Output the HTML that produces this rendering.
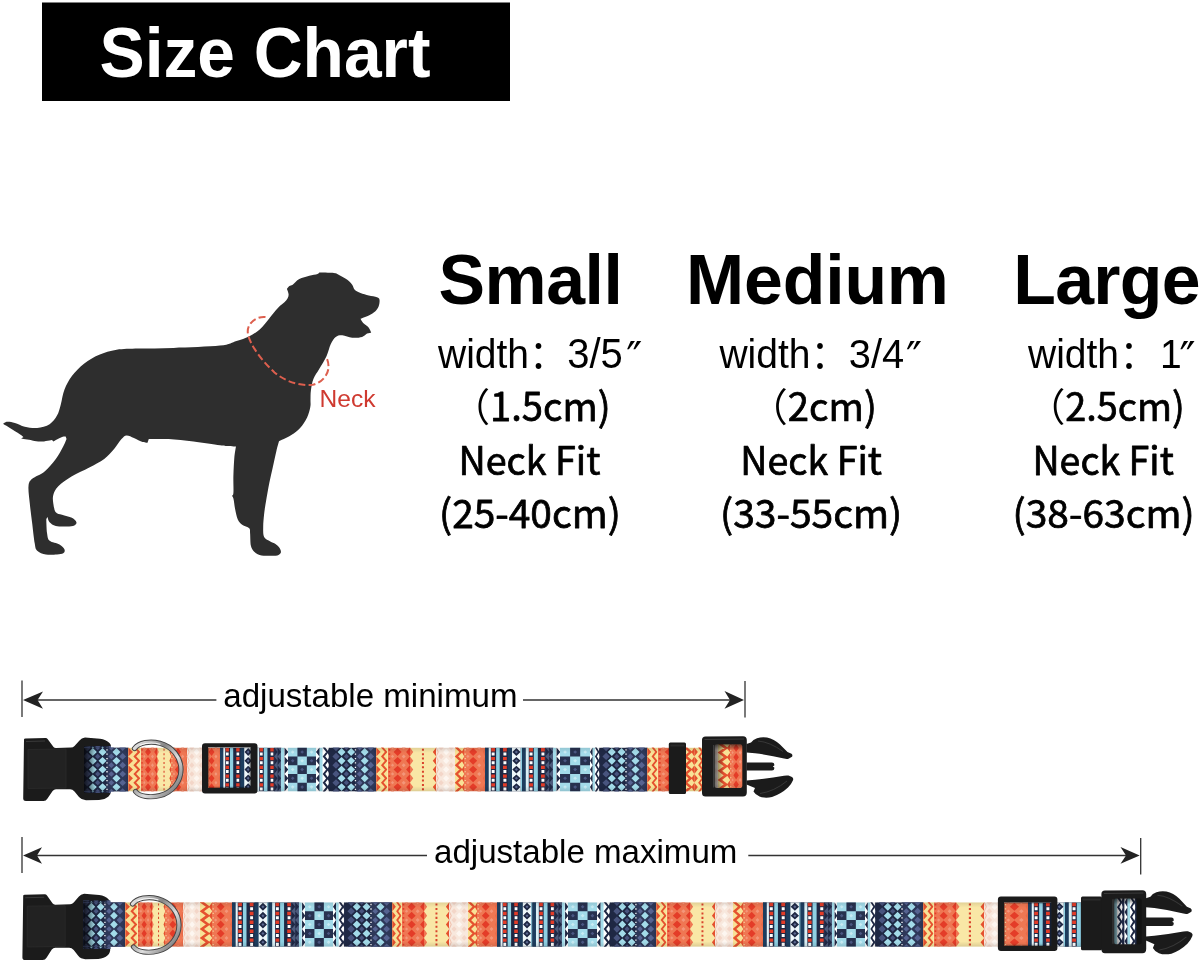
<!DOCTYPE html>
<html><head><meta charset="utf-8"><title>Size Chart</title>
<style>
html,body{margin:0;padding:0;background:#fff;}
body{width:1200px;height:968px;overflow:hidden;position:relative;font-family:"Liberation Sans","Noto Sans CJK SC",sans-serif;color:#000;}
svg{position:absolute;left:0;top:0;display:block;}
.h{font-family:"Liberation Sans",sans-serif;font-weight:700;}
.a{font-family:"Liberation Sans","Noto Sans CJK SC",sans-serif;}
.q{font-family:"DejaVu Sans",sans-serif;}
.n{font-family:"Noto Sans CJK SC","Liberation Sans",sans-serif;}
</style></head><body>
<svg id="s" width="1200" height="968" viewBox="0 0 1200 968">
<!-- header -->
<rect x="42" y="2.5" width="468" height="98.5" fill="#000"/>
<g transform="translate(0,76.5) scale(1,1.04)"><text id="t_title" class="h" x="99.5" y="0" font-size="67.7" fill="#fff">Size Chart</text></g>
<!-- headings -->
<g font-size="69.8">
<text id="t_small" class="h" x="438.4" y="303.7" letter-spacing="-0.4">Small</text>
<text id="t_medium" class="h" x="686" y="303.7" letter-spacing="-0.15">Medium</text>
<text id="t_large" class="h" x="1013.3" y="303.7" letter-spacing="-0.7">Large</text>
</g>
<!-- size details -->
<g id="details">
<g font-size="39">
<g transform="translate(0,367.5) scale(1,1.04)">
<text id="w1" class="a" y="0"><tspan x="438">width</tspan><tspan class="n" x="529" font-size="38">：</tspan><tspan x="567.2" font-size="40">3/5</tspan><tspan class="q" x="626.2" dy="6.5" font-size="43">″</tspan></text>
<text id="w2" class="a" y="0"><tspan x="719.4">width</tspan><tspan class="n" x="810.5" font-size="38">：</tspan><tspan x="848.8" font-size="39.8">3/4</tspan><tspan class="q" x="906" dy="6.5" font-size="43">″</tspan></text>
<text id="w3" class="a" y="0"><tspan x="1028">width</tspan><tspan class="n" x="1119.5" font-size="38">：</tspan><tspan x="1160" font-size="39">1</tspan><tspan class="q" x="1179.5" dy="6.5" font-size="43">″</tspan></text>
</g>
</g>
<g class="n" font-size="39" stroke="#000" stroke-width="0.75" stroke-linejoin="round">
<text id="p1" transform="translate(452,421.3) scale(0.977,1)"><tspan stroke="none">（</tspan>1.5cm)</text>
<text id="p2" transform="translate(749.6,421.3) scale(0.98,1)"><tspan stroke="none">（</tspan>2cm)</text>
<text id="p3" transform="translate(1027.5,421.3) scale(0.97,1)"><tspan stroke="none">（</tspan>2.5cm)</text>
<text id="n1" transform="translate(458.4,474.8) scale(0.967,1)">Neck Fit</text>
<text id="n2" transform="translate(740.3,474.8) scale(0.965,1)">Neck Fit</text>
<text id="n3" transform="translate(1032.5,474.8) scale(0.962,1)">Neck Fit</text>
<text id="r1" transform="translate(439,528) scale(0.997,1)">(25-40cm)</text>
<text id="r2" transform="translate(720,528) scale(0.999,1)">(33-55cm)</text>
<text id="r3" transform="translate(1012.6,528) scale(0.998,1)">(38-63cm)</text>
</g>
</g>
<!-- dog -->
<g id="dog">
<path id="dogpath" fill="#2e2e2e" d="M220.0 345.6C230.5 344.5 231.7 342.5 236.5 341.0C241.3 339.5 245.0 338.3 248.9 336.4C252.8 334.5 256.2 332.5 259.7 329.4C263.1 326.3 266.6 321.5 269.6 317.9C272.6 314.3 275.1 310.8 277.9 307.9C280.6 305.0 284.3 302.7 286.1 300.5C287.9 298.3 288.5 296.6 288.6 294.7C288.7 292.8 286.9 288.9 286.9 288.9C286.9 288.9 288.4 286.8 289.4 286.1C290.4 285.4 291.0 286.0 292.7 284.8C294.4 283.6 296.5 280.5 299.3 279.0C302.1 277.5 306.3 276.5 309.3 275.7C312.3 274.9 315.9 274.6 317.5 274.0C319.1 273.4 319.2 272.4 319.2 272.4C319.2 272.4 330.7 272.5 334.0 272.9C337.3 273.3 336.8 273.8 339.0 274.9C341.2 276.0 345.1 278.1 347.3 279.8C349.5 281.5 351.0 283.1 352.2 284.8C353.4 286.5 353.3 288.4 354.7 289.8C356.1 291.2 358.1 292.1 360.5 293.0C362.9 293.9 366.1 294.8 368.8 295.5C371.6 296.2 375.2 296.5 377.0 297.2C378.8 297.9 379.2 298.2 379.5 299.7C379.8 301.2 379.4 304.4 378.7 306.3C378.0 308.2 377.0 309.7 375.4 311.2C373.8 312.7 371.3 314.1 368.8 315.4C366.3 316.6 360.5 318.7 360.5 318.7C360.5 318.7 362.4 322.1 363.8 323.6C365.2 325.1 367.6 326.3 368.8 327.8C370.0 329.3 371.2 332.7 371.2 332.7C371.2 332.7 368.6 332.9 367.1 333.6C365.6 334.3 364.6 336.2 362.1 336.9C359.6 337.6 355.5 338.0 352.2 337.7C348.9 337.4 345.1 335.3 342.3 335.2C339.6 335.1 337.6 335.4 335.7 336.9C333.8 338.4 332.2 341.1 330.7 344.3C329.2 347.5 328.5 351.8 326.6 355.9C324.7 360.0 321.4 365.2 319.2 369.1C317.0 373.0 314.8 375.4 313.4 379.0C312.0 382.6 311.4 387.1 310.9 390.6C310.4 394.1 310.6 397.3 310.5 400.0C310.4 402.7 310.9 404.1 310.3 407.0C309.7 409.9 308.8 414.1 307.1 417.6C305.4 421.1 302.7 425.2 300.1 428.1C297.5 431.0 294.8 432.9 291.3 435.1C287.8 437.3 279.0 441.3 279.0 441.3C279.0 441.3 277.4 446.7 276.4 450.9C275.4 455.1 274.1 461.4 272.9 466.7C271.7 472.0 270.6 476.7 269.4 482.6C268.2 488.5 266.8 496.6 265.9 501.9C265.0 507.2 264.6 510.1 264.1 514.2C263.7 518.3 263.2 522.7 263.2 526.5C263.2 530.3 262.9 534.5 264.1 537.0C265.3 539.5 268.4 540.2 270.3 541.4C272.2 542.6 273.9 542.8 275.5 544.0C277.1 545.2 279.0 546.9 279.9 548.4C280.8 549.9 281.2 551.6 280.8 552.8C280.4 554.0 279.1 555.0 277.3 555.5C275.6 556.0 272.9 555.8 270.3 555.8C267.7 555.8 264.1 556.1 261.5 555.5C258.9 554.9 256.3 553.5 254.5 551.9C252.7 550.3 251.6 548.9 250.9 545.8C250.2 542.7 250.4 536.4 250.1 533.5C249.8 530.6 250.5 529.7 249.2 528.2C247.9 526.7 244.1 526.2 242.2 524.7C240.3 523.2 239.0 522.0 237.8 519.4C236.6 516.8 235.8 512.4 235.1 508.9C234.4 505.4 234.0 500.6 233.4 498.4C232.8 496.2 231.6 495.7 231.6 495.7C231.6 495.7 233.1 496.5 233.4 493.1C233.7 489.7 233.2 481.4 233.4 475.5C233.6 469.6 233.9 462.8 234.3 458.0C234.7 453.2 236.0 446.5 236.0 446.5C236.0 446.5 229.0 446.2 226.3 446.0C223.6 445.8 225.5 446.0 220.0 445.3C214.5 444.6 202.1 442.6 193.5 441.6C184.9 440.6 176.1 439.5 168.7 439.1C161.2 438.7 148.8 439.1 148.8 439.1C148.8 439.1 147.6 442.8 147.6 442.8C147.6 442.8 144.9 442.9 142.6 442.1C140.3 441.3 136.6 439.0 133.9 437.9C131.2 436.8 128.6 435.2 126.5 435.4C124.4 435.6 123.6 436.8 121.5 439.1C119.4 441.4 117.0 445.7 114.1 449.0C111.2 452.3 108.3 455.9 104.2 459.0C100.1 462.1 94.7 464.7 89.3 467.6C83.9 470.5 77.1 473.2 71.9 476.3C66.7 479.4 61.4 483.1 58.3 486.2C55.2 489.3 54.1 492.0 53.3 494.9C52.5 497.8 52.9 500.7 53.3 503.6C53.7 506.5 54.3 510.4 55.8 512.3C57.2 514.2 59.3 513.9 62.0 514.8C64.7 515.7 69.5 516.6 71.9 517.8C74.3 519.0 76.0 520.9 76.4 522.2C76.8 523.5 76.0 524.7 74.4 525.4C72.8 526.1 70.1 526.3 67.0 526.4C63.9 526.5 58.7 526.6 55.8 525.9C52.9 525.2 51.0 523.7 49.6 522.2C48.2 520.7 47.6 517.0 47.6 517.0C47.6 517.0 46.3 519.0 46.3 519.0C46.3 519.0 46.5 529.8 47.1 533.4C47.7 537.0 47.5 538.9 49.6 540.8C51.7 542.6 57.0 543.0 59.5 544.5C62.0 546.0 63.9 548.0 64.5 549.5C65.1 551.0 64.5 552.4 63.2 553.2C62.0 554.0 59.9 554.3 57.0 554.5C54.1 554.7 49.2 555.1 45.9 554.5C42.6 553.9 39.1 552.6 37.2 550.7C35.3 548.8 35.5 547.8 34.7 543.3C33.9 538.8 33.0 530.1 32.2 523.5C31.4 516.9 30.4 509.8 29.8 503.6C29.2 497.4 28.1 490.3 28.5 486.2C28.9 482.1 29.5 481.3 32.2 478.8C34.9 476.3 40.7 474.7 44.6 471.4C48.5 468.1 52.7 463.1 55.8 459.0C58.9 454.9 61.4 449.9 63.2 446.6C65.0 443.3 66.5 439.1 66.5 439.1C66.5 439.1 65.7 436.6 65.7 436.6C65.7 436.6 64.1 436.3 62.0 437.1C59.9 437.9 53.3 441.6 53.3 441.6C53.3 441.6 52.1 439.9 52.1 439.9C52.1 439.9 44.2 441.5 40.9 441.6C37.6 441.7 35.5 440.9 32.2 440.4C28.9 439.9 21.1 438.6 21.1 438.6C21.1 438.6 23.6 437.1 23.6 437.1C23.6 437.1 22.1 435.7 19.8 434.2C17.5 432.7 12.7 429.7 9.9 428.0C7.1 426.3 3.0 423.8 3.0 423.8C3.0 423.8 5.4 421.9 7.4 421.8C9.4 421.7 12.0 422.2 14.9 423.0C17.8 423.8 21.1 425.9 24.8 426.7C28.5 427.5 33.1 428.4 37.2 428.0C41.3 427.6 46.3 426.3 49.6 424.2C52.9 422.1 55.1 418.9 57.0 415.6C58.9 412.3 59.5 408.8 60.8 404.4C62.0 400.0 62.6 394.2 64.5 389.5C66.3 384.8 68.6 380.2 71.9 375.9C75.2 371.6 79.8 367.0 84.3 363.5C88.8 360.0 93.8 357.1 99.2 354.8C104.6 352.5 110.0 350.8 116.6 349.8C123.2 348.8 129.4 348.9 138.9 348.6C148.4 348.3 160.1 348.4 173.6 347.9C187.1 347.4 209.5 346.8 220.0 345.6Z"/>
<path id="neckring" fill="none" stroke="#dd5f4e" stroke-width="2" stroke-dasharray="7 3.2" d="M265.5 317C256 316 246 324 248 334C250 345 262 361 274.5 372.4C287 383 302 386 312.6 384.8C322 383 329 374 328.5 366C328.3 362 327.5 360 326.6 358"/>
<text id="necklbl" class="a" transform="translate(319.6,406.8) scale(1.07,1)" font-size="23" fill="#cf3a30">Neck</text>
</g>
<!-- collars -->
<defs>
<g id="gA"><rect x="0.00" y="0" width="28.00" height="44" fill="#a3dbe9"/><path d="M9.33 0.00h9.33v8.80h-9.33zM0.00 8.80h9.33v8.80h-9.33zM18.67 8.80h9.33v8.80h-9.33zM9.33 17.60h9.33v8.80h-9.33zM0.00 26.40h9.33v8.80h-9.33zM18.67 26.40h9.33v8.80h-9.33zM9.33 35.20h9.33v8.80h-9.33z" fill="#27314f"/><path d="M12.20 4.40L14.00 2.60L15.80 4.40L14.00 6.20ZM2.87 13.20L4.67 11.40L6.47 13.20L4.67 15.00ZM21.53 13.20L23.33 11.40L25.13 13.20L23.33 15.00ZM12.20 22.00L14.00 20.20L15.80 22.00L14.00 23.80ZM2.87 30.80L4.67 29.00L6.47 30.80L4.67 32.60ZM21.53 30.80L23.33 29.00L25.13 30.80L23.33 32.60ZM12.20 39.60L14.00 37.80L15.80 39.60L14.00 41.40Z" fill="#4a5782"/><path d="M2.87 4.40L4.67 2.60L6.47 4.40L4.67 6.20ZM21.53 4.40L23.33 2.60L25.13 4.40L23.33 6.20ZM12.20 13.20L14.00 11.40L15.80 13.20L14.00 15.00ZM2.87 22.00L4.67 20.20L6.47 22.00L4.67 23.80ZM21.53 22.00L23.33 20.20L25.13 22.00L23.33 23.80ZM12.20 30.80L14.00 29.00L15.80 30.80L14.00 32.60ZM2.87 39.60L4.67 37.80L6.47 39.60L4.67 41.40ZM21.53 39.60L23.33 37.80L25.13 39.60L23.33 41.40Z" fill="#c8ebf3"/></g>
<g id="gB"><rect x="0.00" y="0" width="15.00" height="44" fill="#ffffff"/><rect x="3.20" y="0" width="3.20" height="44" fill="#a3dbe9"/><path d="M3.40 0.00L0.00 4.40L3.40 8.80ZM3.40 8.80L0.00 13.20L3.40 17.60ZM3.40 17.60L0.00 22.00L3.40 26.40ZM3.40 26.40L0.00 30.80L3.40 35.20ZM3.40 35.20L0.00 39.60L3.40 44.00Z" fill="#1f2844"/><path d="M7.80 -8.80L11.20 -4.40L7.80 0.00L11.20 4.40L7.80 8.80L11.20 13.20L7.80 17.60L11.20 22.00L7.80 26.40L11.20 30.80L7.80 35.20L11.20 39.60L7.80 44.00L11.20 48.40L7.80 52.80L11.20 57.20" fill="none" stroke="#1f2844" stroke-width="2.00" stroke-linejoin="miter"/><rect x="12.50" y="0" width="2.50" height="44" fill="#1f2844"/><path d="M13.20 0.00L11.00 4.40L13.20 8.80ZM13.20 8.80L11.00 13.20L13.20 17.60ZM13.20 17.60L11.00 22.00L13.20 26.40ZM13.20 26.40L11.00 30.80L13.20 35.20ZM13.20 35.20L11.00 39.60L13.20 44.00Z" fill="#1f2844"/></g>
<g id="gC"><rect x="0.00" y="0" width="45.00" height="44" fill="#1f2844"/><rect x="24.00" y="0" width="21.00" height="44" fill="#2e3859"/><path d="M1.40 0.00L5.00 -3.60L8.60 0.00L5.00 3.60ZM1.40 8.80L5.00 5.20L8.60 8.80L5.00 12.40ZM1.40 17.60L5.00 14.00L8.60 17.60L5.00 21.20ZM1.40 26.40L5.00 22.80L8.60 26.40L5.00 30.00ZM1.40 35.20L5.00 31.60L8.60 35.20L5.00 38.80ZM1.40 44.00L5.00 40.40L8.60 44.00L5.00 47.60ZM1.40 52.80L5.00 49.20L8.60 52.80L5.00 56.40Z" fill="#48547e"/><path d="M6.60 -4.40L10.50 -8.30L14.40 -4.40L10.50 -0.50ZM6.60 4.40L10.50 0.50L14.40 4.40L10.50 8.30ZM6.60 13.20L10.50 9.30L14.40 13.20L10.50 17.10ZM6.60 22.00L10.50 18.10L14.40 22.00L10.50 25.90ZM6.60 30.80L10.50 26.90L14.40 30.80L10.50 34.70ZM6.60 39.60L10.50 35.70L14.40 39.60L10.50 43.50ZM6.60 48.40L10.50 44.50L14.40 48.40L10.50 52.30Z" fill="#a3dbe9"/><path d="M12.70 0.00L15.30 -2.60L17.90 0.00L15.30 2.60ZM12.70 8.80L15.30 6.20L17.90 8.80L15.30 11.40ZM12.70 17.60L15.30 15.00L17.90 17.60L15.30 20.20ZM12.70 26.40L15.30 23.80L17.90 26.40L15.30 29.00ZM12.70 35.20L15.30 32.60L17.90 35.20L15.30 37.80ZM12.70 44.00L15.30 41.40L17.90 44.00L15.30 46.60ZM12.70 52.80L15.30 50.20L17.90 52.80L15.30 55.40Z" fill="#48547e"/><path d="M16.10 -4.40L20.00 -8.30L23.90 -4.40L20.00 -0.50ZM16.10 4.40L20.00 0.50L23.90 4.40L20.00 8.30ZM16.10 13.20L20.00 9.30L23.90 13.20L20.00 17.10ZM16.10 22.00L20.00 18.10L23.90 22.00L20.00 25.90ZM16.10 30.80L20.00 26.90L23.90 30.80L20.00 34.70ZM16.10 39.60L20.00 35.70L23.90 39.60L20.00 43.50ZM16.10 48.40L20.00 44.50L23.90 48.40L20.00 52.30Z" fill="#a3dbe9"/><path d="M23.65 1.55h1.30v1.30h-1.30zM23.65 5.95h1.30v1.30h-1.30zM23.65 10.35h1.30v1.30h-1.30zM23.65 14.75h1.30v1.30h-1.30zM23.65 19.15h1.30v1.30h-1.30zM23.65 23.55h1.30v1.30h-1.30zM23.65 27.95h1.30v1.30h-1.30zM23.65 32.35h1.30v1.30h-1.30zM23.65 36.75h1.30v1.30h-1.30zM23.65 41.15h1.30v1.30h-1.30z" fill="#ffffff"/><path d="M25.70 0.00L28.50 -2.80L31.30 0.00L28.50 2.80ZM25.70 8.80L28.50 6.00L31.30 8.80L28.50 11.60ZM25.70 17.60L28.50 14.80L31.30 17.60L28.50 20.40ZM25.70 26.40L28.50 23.60L31.30 26.40L28.50 29.20ZM25.70 35.20L28.50 32.40L31.30 35.20L28.50 38.00ZM25.70 44.00L28.50 41.20L31.30 44.00L28.50 46.80ZM25.70 52.80L28.50 50.00L31.30 52.80L28.50 55.60Z" fill="#566391"/><path d="M29.60 -4.40L33.50 -8.30L37.40 -4.40L33.50 -0.50ZM29.60 4.40L33.50 0.50L37.40 4.40L33.50 8.30ZM29.60 13.20L33.50 9.30L37.40 13.20L33.50 17.10ZM29.60 22.00L33.50 18.10L37.40 22.00L33.50 25.90ZM29.60 30.80L33.50 26.90L37.40 30.80L33.50 34.70ZM29.60 39.60L33.50 35.70L37.40 39.60L33.50 43.50ZM29.60 48.40L33.50 44.50L37.40 48.40L33.50 52.30Z" fill="#a3dbe9"/><path d="M36.20 0.00L39.50 -3.30L42.80 0.00L39.50 3.30ZM36.20 8.80L39.50 5.50L42.80 8.80L39.50 12.10ZM36.20 17.60L39.50 14.30L42.80 17.60L39.50 20.90ZM36.20 26.40L39.50 23.10L42.80 26.40L39.50 29.70ZM36.20 35.20L39.50 31.90L42.80 35.20L39.50 38.50ZM36.20 44.00L39.50 40.70L42.80 44.00L39.50 47.30ZM36.20 52.80L39.50 49.50L42.80 52.80L39.50 56.10Z" fill="#566391"/><path d="M45.00 0.00L42.50 4.40L45.00 8.80ZM45.00 8.80L42.50 13.20L45.00 17.60ZM45.00 17.60L42.50 22.00L45.00 26.40ZM45.00 26.40L42.50 30.80L45.00 35.20ZM45.00 35.20L42.50 39.60L45.00 44.00Z" fill="#2a3354"/></g>
<g id="gD"><rect x="0.00" y="0" width="12.00" height="44" fill="#f8e196"/><path d="M0.30 0.00L4.50 4.40L0.30 8.80ZM0.30 8.80L4.50 13.20L0.30 17.60ZM0.30 17.60L4.50 22.00L0.30 26.40ZM0.30 26.40L4.50 30.80L0.30 35.20ZM0.30 35.20L4.50 39.60L0.30 44.00Z" fill="#e5512f"/><path d="M6.10 -8.80L9.90 -4.40L6.10 0.00L9.90 4.40L6.10 8.80L9.90 13.20L6.10 17.60L9.90 22.00L6.10 26.40L9.90 30.80L6.10 35.20L9.90 39.60L6.10 44.00L9.90 48.40L6.10 52.80L9.90 57.20" fill="none" stroke="#e5512f" stroke-width="1.90" stroke-linejoin="miter"/><rect x="11.20" y="0" width="0.80" height="44" fill="#fbeeb8"/></g>
<g id="gE"><rect x="0.00" y="0" width="22.00" height="44" fill="#ef7753"/><path d="M0.55 1.35h1.70v1.70h-1.70zM0.55 5.75h1.70v1.70h-1.70zM0.55 10.15h1.70v1.70h-1.70zM0.55 14.55h1.70v1.70h-1.70zM0.55 18.95h1.70v1.70h-1.70zM0.55 23.35h1.70v1.70h-1.70zM0.55 27.75h1.70v1.70h-1.70zM0.55 32.15h1.70v1.70h-1.70zM0.55 36.55h1.70v1.70h-1.70zM0.55 40.95h1.70v1.70h-1.70z" fill="#e43c28"/><path d="M5.50 -4.40L9.50 -8.30L13.50 -4.40L9.50 -0.50ZM5.50 4.40L9.50 0.50L13.50 4.40L9.50 8.30ZM5.50 13.20L9.50 9.30L13.50 13.20L9.50 17.10ZM5.50 22.00L9.50 18.10L13.50 22.00L9.50 25.90ZM5.50 30.80L9.50 26.90L13.50 30.80L9.50 34.70ZM5.50 39.60L9.50 35.70L13.50 39.60L9.50 43.50ZM5.50 48.40L9.50 44.50L13.50 48.40L9.50 52.30Z" fill="#e43c28"/><path d="M17.90 -4.40L21.50 -8.60L25.10 -4.40L21.50 -0.20ZM17.90 4.40L21.50 0.20L25.10 4.40L21.50 8.60ZM17.90 13.20L21.50 9.00L25.10 13.20L21.50 17.40ZM17.90 22.00L21.50 17.80L25.10 22.00L21.50 26.20ZM17.90 30.80L21.50 26.60L25.10 30.80L21.50 35.00ZM17.90 39.60L21.50 35.40L25.10 39.60L21.50 43.80ZM17.90 48.40L21.50 44.20L25.10 48.40L21.50 52.60Z" fill="#e43c28"/><path d="M13.50 0.00L15.50 -2.00L17.50 0.00L15.50 2.00ZM13.50 8.80L15.50 6.80L17.50 8.80L15.50 10.80ZM13.50 17.60L15.50 15.60L17.50 17.60L15.50 19.60ZM13.50 26.40L15.50 24.40L17.50 26.40L15.50 28.40ZM13.50 35.20L15.50 33.20L17.50 35.20L15.50 37.20ZM13.50 44.00L15.50 42.00L17.50 44.00L15.50 46.00ZM13.50 52.80L15.50 50.80L17.50 52.80L15.50 54.80Z" fill="#f4967a"/><path d="M2.90 0.00L4.50 -1.60L6.10 0.00L4.50 1.60ZM2.90 8.80L4.50 7.20L6.10 8.80L4.50 10.40ZM2.90 17.60L4.50 16.00L6.10 17.60L4.50 19.20ZM2.90 26.40L4.50 24.80L6.10 26.40L4.50 28.00ZM2.90 35.20L4.50 33.60L6.10 35.20L4.50 36.80ZM2.90 44.00L4.50 42.40L6.10 44.00L4.50 45.60ZM2.90 52.80L4.50 51.20L6.10 52.80L4.50 54.40Z" fill="#f4967a"/></g>
<g id="gF"><rect x="0.00" y="0" width="26.00" height="44" fill="#f9e7a6"/><path d="M0.00 0.00L3.20 4.40L0.00 8.80ZM0.00 8.80L3.20 13.20L0.00 17.60ZM0.00 17.60L3.20 22.00L0.00 26.40ZM0.00 26.40L3.20 30.80L0.00 35.20ZM0.00 35.20L3.20 39.60L0.00 44.00Z" fill="#ef7753"/><path d="M11.80 1.20h2.00v2.00h-2.00zM11.80 5.60h2.00v2.00h-2.00zM11.80 10.00h2.00v2.00h-2.00zM11.80 14.40h2.00v2.00h-2.00zM11.80 18.80h2.00v2.00h-2.00zM11.80 23.20h2.00v2.00h-2.00zM11.80 27.60h2.00v2.00h-2.00zM11.80 32.00h2.00v2.00h-2.00zM11.80 36.40h2.00v2.00h-2.00zM11.80 40.80h2.00v2.00h-2.00z" fill="#d9432c"/><path d="M26.00 0.00L22.50 4.40L26.00 8.80ZM26.00 8.80L22.50 13.20L26.00 17.60ZM26.00 17.60L22.50 22.00L26.00 26.40ZM26.00 26.40L22.50 30.80L26.00 35.20ZM26.00 35.20L22.50 39.60L26.00 44.00Z" fill="#e5512f"/></g>
<g id="gG"><rect x="0.00" y="0" width="19.00" height="44" fill="#f8e8dd"/><path d="M2.40 0.00L5.00 -2.80L7.60 0.00L5.00 2.80ZM2.40 8.80L5.00 6.00L7.60 8.80L5.00 11.60ZM2.40 17.60L5.00 14.80L7.60 17.60L5.00 20.40ZM2.40 26.40L5.00 23.60L7.60 26.40L5.00 29.20ZM2.40 35.20L5.00 32.40L7.60 35.20L5.00 38.00ZM2.40 44.00L5.00 41.20L7.60 44.00L5.00 46.80ZM2.40 52.80L5.00 50.00L7.60 52.80L5.00 55.60Z" fill="#f3d6c8"/><path d="M7.00 -4.40L10.00 -7.60L13.00 -4.40L10.00 -1.20ZM7.00 4.40L10.00 1.20L13.00 4.40L10.00 7.60ZM7.00 13.20L10.00 10.00L13.00 13.20L10.00 16.40ZM7.00 22.00L10.00 18.80L13.00 22.00L10.00 25.20ZM7.00 30.80L10.00 27.60L13.00 30.80L10.00 34.00ZM7.00 39.60L10.00 36.40L13.00 39.60L10.00 42.80ZM7.00 48.40L10.00 45.20L13.00 48.40L10.00 51.60Z" fill="#fdf6f0"/><path d="M12.40 0.00L15.00 -2.80L17.60 0.00L15.00 2.80ZM12.40 8.80L15.00 6.00L17.60 8.80L15.00 11.60ZM12.40 17.60L15.00 14.80L17.60 17.60L15.00 20.40ZM12.40 26.40L15.00 23.60L17.60 26.40L15.00 29.20ZM12.40 35.20L15.00 32.40L17.60 35.20L15.00 38.00ZM12.40 44.00L15.00 41.20L17.60 44.00L15.00 46.80ZM12.40 52.80L15.00 50.00L17.60 52.80L15.00 55.60Z" fill="#f3d6c8"/><path d="M0.20 -8.80L2.20 -4.40L0.20 0.00L2.20 4.40L0.20 8.80L2.20 13.20L0.20 17.60L2.20 22.00L0.20 26.40L2.20 30.80L0.20 35.20L2.20 39.60L0.20 44.00L2.20 48.40L0.20 52.80L2.20 57.20" fill="none" stroke="#f1c2ae" stroke-width="1.00" stroke-linejoin="miter"/></g>
<g id="gH"><rect x="0.00" y="0" width="9.00" height="44" fill="#f8e196"/><path d="M1.40 -8.80L5.80 -4.40L1.40 0.00L5.80 4.40L1.40 8.80L5.80 13.20L1.40 17.60L5.80 22.00L1.40 26.40L5.80 30.80L1.40 35.20L5.80 39.60L1.40 44.00L5.80 48.40L1.40 52.80L5.80 57.20" fill="none" stroke="#e5512f" stroke-width="2.30" stroke-linejoin="miter"/><path d="M9.00 0.00L6.50 4.40L9.00 8.80ZM9.00 8.80L6.50 13.20L9.00 17.60ZM9.00 17.60L6.50 22.00L9.00 26.40ZM9.00 26.40L6.50 30.80L9.00 35.20ZM9.00 35.20L6.50 39.60L9.00 44.00Z" fill="#e5512f"/></g>
<g id="gI"><rect x="0.00" y="0" width="21.00" height="44" fill="#ef7753"/><path d="M0.60 1.60h1.20v1.20h-1.20zM0.60 6.00h1.20v1.20h-1.20zM0.60 10.40h1.20v1.20h-1.20zM0.60 14.80h1.20v1.20h-1.20zM0.60 19.20h1.20v1.20h-1.20zM0.60 23.60h1.20v1.20h-1.20zM0.60 28.00h1.20v1.20h-1.20zM0.60 32.40h1.20v1.20h-1.20zM0.60 36.80h1.20v1.20h-1.20zM0.60 41.20h1.20v1.20h-1.20z" fill="#f9d9a0"/><path d="M5.00 -4.40L9.00 -8.30L13.00 -4.40L9.00 -0.50ZM5.00 4.40L9.00 0.50L13.00 4.40L9.00 8.30ZM5.00 13.20L9.00 9.30L13.00 13.20L9.00 17.10ZM5.00 22.00L9.00 18.10L13.00 22.00L9.00 25.90ZM5.00 30.80L9.00 26.90L13.00 30.80L9.00 34.70ZM5.00 39.60L9.00 35.70L13.00 39.60L9.00 43.50ZM5.00 48.40L9.00 44.50L13.00 48.40L9.00 52.30Z" fill="#e43c28"/><path d="M13.00 0.00L15.00 -2.00L17.00 0.00L15.00 2.00ZM13.00 8.80L15.00 6.80L17.00 8.80L15.00 10.80ZM13.00 17.60L15.00 15.60L17.00 17.60L15.00 19.60ZM13.00 26.40L15.00 24.40L17.00 26.40L15.00 28.40ZM13.00 35.20L15.00 33.20L17.00 35.20L15.00 37.20ZM13.00 44.00L15.00 42.00L17.00 44.00L15.00 46.00ZM13.00 52.80L15.00 50.80L17.00 52.80L15.00 54.80Z" fill="#f4967a"/><path d="M2.20 0.00L3.80 -1.60L5.40 0.00L3.80 1.60ZM2.20 8.80L3.80 7.20L5.40 8.80L3.80 10.40ZM2.20 17.60L3.80 16.00L5.40 17.60L3.80 19.20ZM2.20 26.40L3.80 24.80L5.40 26.40L3.80 28.00ZM2.20 35.20L3.80 33.60L5.40 35.20L3.80 36.80ZM2.20 44.00L3.80 42.40L5.40 44.00L3.80 45.60ZM2.20 52.80L3.80 51.20L5.40 52.80L3.80 54.40Z" fill="#f4967a"/><path d="M21.00 0.00L18.60 4.40L21.00 8.80ZM21.00 8.80L18.60 13.20L21.00 17.60ZM21.00 17.60L18.60 22.00L21.00 26.40ZM21.00 26.40L18.60 30.80L21.00 35.20ZM21.00 35.20L18.60 39.60L21.00 44.00Z" fill="#ea6a48"/></g>
<g id="gJ"><rect x="0.00" y="0" width="64.50" height="44" fill="#1f2844"/><rect x="0.00" y="0" width="3.50" height="44" fill="#1d3d5e"/><rect x="3.50" y="0" width="2.00" height="44" fill="#e6f5f9"/><path d="M5.90 0.50h3.60v3.40h-3.60zM5.90 9.30h3.60v3.40h-3.60zM5.90 18.10h3.60v3.40h-3.60zM5.90 26.90h3.60v3.40h-3.60zM5.90 35.70h3.60v3.40h-3.60z" fill="#e43c28"/><path d="M6.30 4.90h2.80v3.00h-2.80zM6.30 13.70h2.80v3.00h-2.80zM6.30 22.50h2.80v3.00h-2.80zM6.30 31.30h2.80v3.00h-2.80zM6.30 40.10h2.80v3.00h-2.80z" fill="#fff"/><rect x="10.50" y="0" width="3.40" height="44" fill="#8fd0e2"/><path d="M17.00 0.50h3.60v3.40h-3.60zM17.00 9.30h3.60v3.40h-3.60zM17.00 18.10h3.60v3.40h-3.60zM17.00 26.90h3.60v3.40h-3.60zM17.00 35.70h3.60v3.40h-3.60z" fill="#e43c28"/><path d="M17.40 4.90h2.80v3.00h-2.80zM17.40 13.70h2.80v3.00h-2.80zM17.40 22.50h2.80v3.00h-2.80zM17.40 31.30h2.80v3.00h-2.80zM17.40 40.10h2.80v3.00h-2.80z" fill="#fff"/><rect x="21.50" y="0" width="4.00" height="44" fill="#1d3d5e"/><rect x="25.50" y="0" width="8.30" height="44" fill="#eef8fb"/><path d="M25.75 -4.40L29.65 -8.30L33.55 -4.40L29.65 -0.50ZM25.75 4.40L29.65 0.50L33.55 4.40L29.65 8.30ZM25.75 13.20L29.65 9.30L33.55 13.20L29.65 17.10ZM25.75 22.00L29.65 18.10L33.55 22.00L29.65 25.90ZM25.75 30.80L29.65 26.90L33.55 30.80L29.65 34.70ZM25.75 39.60L29.65 35.70L33.55 39.60L29.65 43.50ZM25.75 48.40L29.65 44.50L33.55 48.40L29.65 52.30Z" fill="#1f2844"/><path d="M28.15 -4.40L29.65 -5.90L31.15 -4.40L29.65 -2.90ZM28.15 4.40L29.65 2.90L31.15 4.40L29.65 5.90ZM28.15 13.20L29.65 11.70L31.15 13.20L29.65 14.70ZM28.15 22.00L29.65 20.50L31.15 22.00L29.65 23.50ZM28.15 30.80L29.65 29.30L31.15 30.80L29.65 32.30ZM28.15 39.60L29.65 38.10L31.15 39.60L29.65 41.10ZM28.15 48.40L29.65 46.90L31.15 48.40L29.65 49.90Z" fill="#5d6a92"/><rect x="33.80" y="0" width="1.20" height="44" fill="#8fd0e2"/><rect x="35.00" y="0" width="3.60" height="44" fill="#1d3d5e"/><rect x="38.50" y="0" width="2.80" height="44" fill="#d9f0f6"/><path d="M41.70 0.50h3.60v3.40h-3.60zM41.70 9.30h3.60v3.40h-3.60zM41.70 18.10h3.60v3.40h-3.60zM41.70 26.90h3.60v3.40h-3.60zM41.70 35.70h3.60v3.40h-3.60z" fill="#e43c28"/><path d="M42.10 4.90h2.80v3.00h-2.80zM42.10 13.70h2.80v3.00h-2.80zM42.10 22.50h2.80v3.00h-2.80zM42.10 31.30h2.80v3.00h-2.80zM42.10 40.10h2.80v3.00h-2.80z" fill="#fff"/><rect x="46.10" y="0" width="3.80" height="44" fill="#8fd0e2"/><path d="M52.90 0.50h3.60v3.40h-3.60zM52.90 9.30h3.60v3.40h-3.60zM52.90 18.10h3.60v3.40h-3.60zM52.90 26.90h3.60v3.40h-3.60zM52.90 35.70h3.60v3.40h-3.60z" fill="#e43c28"/><path d="M53.30 4.90h2.80v3.00h-2.80zM53.30 13.70h2.80v3.00h-2.80zM53.30 22.50h2.80v3.00h-2.80zM53.30 31.30h2.80v3.00h-2.80zM53.30 40.10h2.80v3.00h-2.80z" fill="#fff"/><rect x="57.00" y="0" width="7.50" height="44" fill="#4d5b7c"/><path d="M57.00 0.00L60.60 4.40L57.00 8.80ZM57.00 8.80L60.60 13.20L57.00 17.60ZM57.00 17.60L60.60 22.00L57.00 26.40ZM57.00 26.40L60.60 30.80L57.00 35.20ZM57.00 35.20L60.60 39.60L57.00 44.00Z" fill="#1f2844"/><path d="M60.60 0.00L64.20 4.40L60.60 8.80ZM60.60 8.80L64.20 13.20L60.60 17.60ZM60.60 17.60L64.20 22.00L60.60 26.40ZM60.60 26.40L64.20 30.80L60.60 35.20ZM60.60 35.20L64.20 39.60L60.60 44.00Z" fill="#1f2844"/></g>
<g id="gK"><rect x="0.00" y="0" width="7.00" height="44" fill="#ffffff"/><rect x="0.00" y="0" width="3.00" height="44" fill="#a3dbe9"/><path d="M3.40 0.00L7.00 4.40L3.40 8.80ZM3.40 8.80L7.00 13.20L3.40 17.60ZM3.40 17.60L7.00 22.00L3.40 26.40ZM3.40 26.40L7.00 30.80L3.40 35.20ZM3.40 35.20L7.00 39.60L3.40 44.00Z" fill="#1f2844"/></g>
<linearGradient id="ringg" x1="0" y1="0" x2="1" y2="1"><stop offset="0" stop-color="#ececec"/><stop offset="0.35" stop-color="#858585"/><stop offset="0.6" stop-color="#dedede"/><stop offset="1" stop-color="#5c5c5c"/></linearGradient>
<linearGradient id="inshade" x1="0" y1="0" x2="1" y2="0"><stop offset="0" stop-color="#000" stop-opacity="0.75"/><stop offset="1" stop-color="#000" stop-opacity="0"/></linearGradient>
<linearGradient id="topshade" x1="0" y1="0" x2="0" y2="1"><stop offset="0" stop-color="#000" stop-opacity="0.55"/><stop offset="1" stop-color="#000" stop-opacity="0"/></linearGradient>
<linearGradient id="shade" x1="0" y1="0" x2="0" y2="1"><stop offset="0" stop-color="#000" stop-opacity="0.10"/><stop offset="0.12" stop-color="#000" stop-opacity="0"/><stop offset="0.88" stop-color="#000" stop-opacity="0"/><stop offset="1" stop-color="#000" stop-opacity="0.12"/></linearGradient>
</defs>
<!-- collar 1 -->
<g transform="translate(0.0,769.5) scale(1,1.000) translate(0,-769.5)"><path d="M24 739.5Q24 738.5 25.5 738.5L45.5 738Q47 738 47.8 739.3L53.5 747Q54.3 748 56 748L71 747.6Q73 747.5 74.5 746L79.5 740.5Q81.5 738 85 737.6L100 738.8Q106 739.5 109.5 743Q111.5 745 111 748L111 790Q111.3 794 108.5 796.5Q105 799.5 99 800L86 800.3Q81.5 800 79 797L74.5 791.5Q72.5 789.3 70 789.3L56 789.3Q54 789.3 52.6 791L47.5 798.5Q46 801 43.5 801L26 801Q23.3 801 23.2 798.5Z" fill="#1b1b1b"/><path d="M28 749.5L66 749L66 788L28 788.5Z" fill="#222" stroke="#2b2b2b" stroke-width="0.8"/><path d="M26 741.5L45 741" stroke="#3a3a3a" stroke-width="1" fill="none"/></g>
<clipPath id="clip_fb1"><rect x="84.0" y="746.0" width="27.0" height="47.0"/></clipPath>
<g id="fb1" clip-path="url(#clip_fb1)">
<use href="#gC" transform="translate(82.0,746.0) scale(1.0289,1.0682)"/>
<rect x="84.0" y="746.0" width="44.0" height="47.0" fill="url(#shade)"/>
<rect x="84.0" y="746.0" width="12" height="47.0" fill="url(#inshade)"/>
</g>
<clipPath id="clip_strap1"><rect x="84.0" y="747.6" width="620.0" height="43.9"/></clipPath>
<g id="strap1" clip-path="url(#clip_strap1)">
<use href="#gC" transform="translate(82.0,747.6) scale(1.0289,0.9977)"/>
<use href="#gD" transform="translate(128.0,747.6) scale(1.1083,0.9977)"/>
<use href="#gE" transform="translate(141.0,747.6) scale(0.7409,0.9977)"/>
<use href="#gF" transform="translate(157.0,747.6) scale(0.5500,0.9977)"/>
<use href="#gI" transform="translate(171.0,747.6) scale(0.7762,0.9977)"/>
<use href="#gG" transform="translate(187.0,747.6) scale(0.9632,0.9977)"/>
<use href="#gI" transform="translate(205.0,747.6) scale(0.7286,0.9977)"/>
<use href="#gJ" transform="translate(220.0,747.6) scale(0.9504,0.9977)"/>
<use href="#gK" transform="translate(281.0,747.6) scale(1.0429,0.9977)"/>
<use href="#gA" transform="translate(288.0,747.6) scale(1.0107,0.9977)"/>
<use href="#gB" transform="translate(316.0,747.6) scale(1.0200,0.9977)"/>
<use href="#gC" transform="translate(331.0,747.6) scale(1.0067,0.9977)"/>
<use href="#gD" transform="translate(376.0,747.6) scale(1.0250,0.9977)"/>
<use href="#gE" transform="translate(388.0,747.6) scale(1.0136,0.9977)"/>
<use href="#gF" transform="translate(410.0,747.6) scale(1.0115,0.9977)"/>
<use href="#gG" transform="translate(436.0,747.6) scale(1.0158,0.9977)"/>
<use href="#gH" transform="translate(455.0,747.6) scale(1.0333,0.9977)"/>
<use href="#gI" transform="translate(464.0,747.6) scale(1.0143,0.9977)"/>
<use href="#gJ" transform="translate(485.0,747.6) scale(1.0589,0.9977)"/>
<use href="#gK" transform="translate(553.0,747.6) scale(1.0429,0.9977)"/>
<use href="#gA" transform="translate(560.0,747.6) scale(1.0821,0.9977)"/>
<use href="#gB" transform="translate(590.0,747.6) scale(0.7533,0.9977)"/>
<use href="#gC" transform="translate(601.0,747.6) scale(1.0289,0.9977)"/>
<use href="#gD" transform="translate(647.0,747.6) scale(0.9417,0.9977)"/>
<use href="#gE" transform="translate(658.0,747.6) scale(1.1955,0.9977)"/>
<use href="#gH" transform="translate(684.0,747.6) scale(1.1444,0.9977)"/>
<use href="#gD" transform="translate(694.0,747.6) scale(0.8583,0.9977)"/>
<rect x="84.0" y="747.6" width="620.0" height="43.9" fill="url(#shade)"/>
<rect x="84.0" y="747.6" width="12" height="43.9" fill="url(#inshade)"/>
</g>
<rect x="208.0" y="747.0" width="42.6" height="41.0" fill="none" stroke="#000" stroke-opacity="0.35" stroke-width="2.4"/>
<path fill-rule="evenodd" fill="#1b1b1b" d="M205.0 743.2H254.5Q257.5 743.2 257.5 746.2V790.6Q257.5 793.6 254.5 793.6H205.0Q202.0 793.6 202.0 790.6V746.2Q202.0 743.2 205.0 743.2ZM208.0 747.0V788.0H250.6V747.0Z"/>
<rect x="668.8" y="742.5" width="17.2" height="51.5" rx="1.5" fill="#1b1b1b"/><rect x="670.3" y="744.5" width="14.2" height="2.0" fill="#2a2a2a"/>
<g transform="translate(0.0,0.0)" fill="none"><path d="M134.5 748.5C139 742.5 150 740.6 160 743.3C172 746.5 181 757 181 769.6C181 782 172 792.5 160 795.6C150 798 139.5 796.5 135.5 791.5" stroke="#444" stroke-width="5.2" stroke-linecap="round"/><path d="M134.5 748.5C139 742.5 150 740.6 160 743.3C172 746.5 181 757 181 769.6C181 782 172 792.5 160 795.6C150 798 139.5 796.5 135.5 791.5" stroke="url(#ringg)" stroke-width="3.3" stroke-linecap="round"/><path d="M140 745.3C147 742.5 154 742.6 160 744.3" stroke="#fff" stroke-width="1.1" stroke-linecap="round" opacity="0.9"/></g>
<clipPath id="clip_in1"><rect x="712.0" y="743.5" width="32.0" height="45.5"/></clipPath>
<g id="in1" clip-path="url(#clip_in1)">
<use href="#gG" transform="translate(712.0,743.5) scale(0.3316,1.0341)"/>
<use href="#gH" transform="translate(718.0,743.5) scale(1.3667,1.0341)"/>
<use href="#gI" transform="translate(730.0,743.5) scale(0.6810,1.0341)"/>
<rect x="712.0" y="743.5" width="32.0" height="45.5" fill="url(#shade)"/>
<rect x="712.0" y="743.5" width="12" height="45.5" fill="url(#inshade)"/>
</g>
<rect x="712.0" y="743.5" width="32.0" height="7" fill="url(#topshade)"/>
<g transform="translate(0.0,766.5) scale(1,1.000) translate(0,-766.5)"><path fill-rule="evenodd" fill="#1b1b1b" d="M705.5 736.5L743 736.2Q746.8 736.2 746.8 740L746.8 792.5Q746.8 796.5 743 796.5L705.5 796.5Q702 796.5 702 793L702 740Q702 736.5 705.5 736.5ZM716.5 744.3Q714.6 744.3 714.6 746.3L714.6 786Q714.6 788 716.5 788L740.3 788Q742.3 788 742.3 786L742.3 746.3Q742.3 744.3 740.3 744.3Z"/><path d="M704.5 739.5L744 739" stroke="#3a3a3a" stroke-width="1" fill="none"/><path d="M713.6 745V787.5" stroke="#3c3c3c" stroke-width="1.2" fill="none"/><path fill="#1b1b1b" d="M746.5 744L751 742.5Q753 739.5 757 738.2Q762 736.8 767 737.6Q774 739 780 744.5L787.5 752L791.5 753.8Q793 755 792 756.8L788.5 758.8Q786.5 759.3 784 758.6Q770 755 755 753.2L746.5 752.5Z"/><path fill="#1b1b1b" d="M746.5 780.5L755 779.8Q770 778.3 784 775.8Q786.5 775.2 788.5 775.6L792 777Q793.8 778.2 793 780.2Q791.5 784 788 787.5Q781 794 772 797Q765 798.5 759.5 796.5Q755 794.5 753.5 791.5L755 788L746.5 784.5Z"/><path fill="#1b1b1b" d="M746.5 762.4L772 762.4Q774.3 762.4 774.3 764.4L774.3 765.6L772.8 766.5L774.3 767.4L774.3 768.6Q774.3 770.6 772 770.6L746.5 770.6Z"/><path d="M758 741Q770 742 783 751.5" stroke="#383838" stroke-width="1" fill="none"/><path d="M760 793.5Q774 791.5 787 781" stroke="#383838" stroke-width="1" fill="none"/></g>
<!-- collar 2 -->
<g transform="translate(-0.8,927.1) scale(1,1.045) translate(0,-769.5)"><path d="M24 739.5Q24 738.5 25.5 738.5L45.5 738Q47 738 47.8 739.3L53.5 747Q54.3 748 56 748L71 747.6Q73 747.5 74.5 746L79.5 740.5Q81.5 738 85 737.6L100 738.8Q106 739.5 109.5 743Q111.5 745 111 748L111 790Q111.3 794 108.5 796.5Q105 799.5 99 800L86 800.3Q81.5 800 79 797L74.5 791.5Q72.5 789.3 70 789.3L56 789.3Q54 789.3 52.6 791L47.5 798.5Q46 801 43.5 801L26 801Q23.3 801 23.2 798.5Z" fill="#1b1b1b"/><path d="M28 749.5L66 749L66 788L28 788.5Z" fill="#222" stroke="#2b2b2b" stroke-width="0.8"/><path d="M26 741.5L45 741" stroke="#3a3a3a" stroke-width="1" fill="none"/></g>
<clipPath id="clip_fb2"><rect x="83.2" y="900.5" width="27.0" height="48.5"/></clipPath>
<g id="fb2" clip-path="url(#clip_fb2)">
<use href="#gC" transform="translate(81.0,900.5) scale(0.9844,1.1023)"/>
<rect x="83.2" y="900.5" width="41.8" height="48.5" fill="url(#shade)"/>
<rect x="83.2" y="900.5" width="12" height="48.5" fill="url(#inshade)"/>
</g>
<clipPath id="clip_strap2"><rect x="83.2" y="902.3" width="1019.8" height="44.5"/></clipPath>
<g id="strap2" clip-path="url(#clip_strap2)">
<use href="#gC" transform="translate(81.0,902.3) scale(0.9844,1.0114)"/>
<use href="#gD" transform="translate(125.0,902.3) scale(1.1083,1.0114)"/>
<use href="#gE" transform="translate(138.0,902.3) scale(0.6500,1.0114)"/>
<use href="#gF" transform="translate(152.0,902.3) scale(0.5115,1.0114)"/>
<use href="#gI" transform="translate(165.0,902.3) scale(0.8714,1.0114)"/>
<use href="#gG" transform="translate(183.0,902.3) scale(0.9105,1.0114)"/>
<use href="#gH" transform="translate(200.0,902.3) scale(1.3667,1.0114)"/>
<use href="#gI" transform="translate(212.0,902.3) scale(0.9667,1.0114)"/>
<use href="#gJ" transform="translate(232.0,902.3) scale(1.0434,1.0114)"/>
<use href="#gK" transform="translate(299.0,902.3) scale(0.9000,1.0114)"/>
<use href="#gA" transform="translate(305.0,902.3) scale(1.0107,1.0114)"/>
<use href="#gB" transform="translate(333.0,902.3) scale(0.8867,1.0114)"/>
<use href="#gC" transform="translate(346.0,902.3) scale(1.0289,1.0114)"/>
<use href="#gD" transform="translate(392.0,902.3) scale(0.8583,1.0114)"/>
<use href="#gE" transform="translate(402.0,902.3) scale(1.0136,1.0114)"/>
<use href="#gF" transform="translate(424.0,902.3) scale(0.9731,1.0114)"/>
<use href="#gG" transform="translate(449.0,902.3) scale(1.0158,1.0114)"/>
<use href="#gH" transform="translate(468.0,902.3) scale(1.0333,1.0114)"/>
<use href="#gI" transform="translate(477.0,902.3) scale(0.9667,1.0114)"/>
<use href="#gJ" transform="translate(497.0,902.3) scale(1.0124,1.0114)"/>
<use href="#gK" transform="translate(562.0,902.3) scale(0.9000,1.0114)"/>
<use href="#gA" transform="translate(568.0,902.3) scale(1.0464,1.0114)"/>
<use href="#gB" transform="translate(597.0,902.3) scale(1.0200,1.0114)"/>
<use href="#gC" transform="translate(612.0,902.3) scale(0.9844,1.0114)"/>
<use href="#gD" transform="translate(656.0,902.3) scale(0.9417,1.0114)"/>
<use href="#gE" transform="translate(667.0,902.3) scale(1.0591,1.0114)"/>
<use href="#gF" transform="translate(690.0,902.3) scale(0.9731,1.0114)"/>
<use href="#gG" transform="translate(715.0,902.3) scale(0.9632,1.0114)"/>
<use href="#gH" transform="translate(733.0,902.3) scale(1.1444,1.0114)"/>
<use href="#gI" transform="translate(743.0,902.3) scale(0.9667,1.0114)"/>
<use href="#gJ" transform="translate(763.0,902.3) scale(1.0744,1.0114)"/>
<use href="#gK" transform="translate(832.0,902.3) scale(0.7571,1.0114)"/>
<use href="#gA" transform="translate(837.0,902.3) scale(1.0107,1.0114)"/>
<use href="#gB" transform="translate(865.0,902.3) scale(0.8200,1.0114)"/>
<use href="#gC" transform="translate(877.0,902.3) scale(1.0289,1.0114)"/>
<use href="#gD" transform="translate(923.0,902.3) scale(0.9417,1.0114)"/>
<use href="#gE" transform="translate(934.0,902.3) scale(1.0136,1.0114)"/>
<use href="#gF" transform="translate(956.0,902.3) scale(1.0885,1.0114)"/>
<use href="#gG" transform="translate(984.0,902.3) scale(1.0684,1.0114)"/>
<use href="#gI" transform="translate(1004.0,902.3) scale(1.1571,1.0114)"/>
<use href="#gJ" transform="translate(1028.0,902.3) scale(1.0589,1.0114)"/>
<use href="#gK" transform="translate(1096.0,902.3) scale(1.0429,1.0114)"/>
<rect x="83.2" y="902.3" width="1019.8" height="44.5" fill="url(#shade)"/>
<rect x="83.2" y="902.3" width="12" height="44.5" fill="url(#inshade)"/>
</g>
<rect x="1004.0" y="902.3" width="47.3" height="43.7" fill="none" stroke="#000" stroke-opacity="0.35" stroke-width="2.4"/>
<path fill-rule="evenodd" fill="#1b1b1b" d="M1000.9 896.6H1054.4Q1057.4 896.6 1057.4 899.6V948.0Q1057.4 951.0 1054.4 951.0H1000.9Q997.9 951.0 997.9 948.0V899.6Q997.9 896.6 1000.9 896.6ZM1004.0 902.3V946.0H1051.3V902.3Z"/>
<rect x="1081.0" y="896.6" width="21.0" height="53.7" rx="1.5" fill="#1b1b1b"/><rect x="1082.5" y="898.6" width="18.0" height="2.0" fill="#2a2a2a"/>
<g transform="translate(-2.0,155.5)" fill="none"><path d="M134.5 748.5C139 742.5 150 740.6 160 743.3C172 746.5 181 757 181 769.6C181 782 172 792.5 160 795.6C150 798 139.5 796.5 135.5 791.5" stroke="#444" stroke-width="5.2" stroke-linecap="round"/><path d="M134.5 748.5C139 742.5 150 740.6 160 743.3C172 746.5 181 757 181 769.6C181 782 172 792.5 160 795.6C150 798 139.5 796.5 135.5 791.5" stroke="url(#ringg)" stroke-width="3.3" stroke-linecap="round"/><path d="M140 745.3C147 742.5 154 742.6 160 744.3" stroke="#fff" stroke-width="1.1" stroke-linecap="round" opacity="0.9"/></g>
<clipPath id="clip_in2"><rect x="1111.0" y="897.5" width="26.0" height="48.5"/></clipPath>
<g id="in2" clip-path="url(#clip_in2)">
<use href="#gB" transform="translate(1111.0,897.5) scale(0.9200,1.1023)"/>
<use href="#gB" transform="translate(1124.5,897.5) scale(0.8533,1.1023)"/>
<rect x="1111.0" y="897.5" width="26.0" height="48.5" fill="url(#shade)"/>
<rect x="1111.0" y="897.5" width="12" height="48.5" fill="url(#inshade)"/>
</g>
<rect x="1111.0" y="897.5" width="26.0" height="7" fill="url(#topshade)"/>
<rect x="1136.5" y="897.5" width="7.0" height="48.5" fill="#131313"/>
<g transform="translate(399.4,921.8) scale(1,1.045) translate(0,-766.5)"><path fill-rule="evenodd" fill="#1b1b1b" d="M705.5 736.5L743 736.2Q746.8 736.2 746.8 740L746.8 792.5Q746.8 796.5 743 796.5L705.5 796.5Q702 796.5 702 793L702 740Q702 736.5 705.5 736.5ZM716.5 744.3Q714.6 744.3 714.6 746.3L714.6 786Q714.6 788 716.5 788L740.3 788Q742.3 788 742.3 786L742.3 746.3Q742.3 744.3 740.3 744.3Z"/><path d="M704.5 739.5L744 739" stroke="#3a3a3a" stroke-width="1" fill="none"/><path d="M713.6 745V787.5" stroke="#3c3c3c" stroke-width="1.2" fill="none"/><path fill="#1b1b1b" d="M746.5 744L751 742.5Q753 739.5 757 738.2Q762 736.8 767 737.6Q774 739 780 744.5L787.5 752L791.5 753.8Q793 755 792 756.8L788.5 758.8Q786.5 759.3 784 758.6Q770 755 755 753.2L746.5 752.5Z"/><path fill="#1b1b1b" d="M746.5 780.5L755 779.8Q770 778.3 784 775.8Q786.5 775.2 788.5 775.6L792 777Q793.8 778.2 793 780.2Q791.5 784 788 787.5Q781 794 772 797Q765 798.5 759.5 796.5Q755 794.5 753.5 791.5L755 788L746.5 784.5Z"/><path fill="#1b1b1b" d="M746.5 762.4L772 762.4Q774.3 762.4 774.3 764.4L774.3 765.6L772.8 766.5L774.3 767.4L774.3 768.6Q774.3 770.6 772 770.6L746.5 770.6Z"/><path d="M758 741Q770 742 783 751.5" stroke="#383838" stroke-width="1" fill="none"/><path d="M760 793.5Q774 791.5 787 781" stroke="#383838" stroke-width="1" fill="none"/></g>
<!-- /collars -->
<!-- arrows -->
<g stroke="#333" stroke-width="1.3" fill="none">
<path d="M22 680.5V717M745 681V717.5M22 837V873M1140.7 838V874.5"/>
<path d="M36 700H216.4M523 700H731M36 855.5H427M748.3 855.5H1127"/>
</g>
<g fill="#222">
<path d="M23 700L43 691.5L37.5 700L43 708.7Z"/>
<path d="M744 700L724.5 691L730 700L724.5 708.8Z"/>
<path d="M23 855.5L42 847.3L37 855.5L42 863.8Z"/>
<path d="M1139.7 855.5L1120.5 847L1126 855.5L1120.5 863.8Z"/>
</g>
<g class="a" font-size="33">
<text id="amin" x="223.3" y="706.8" font-size="33.1">adjustable minimum</text>
<text id="amax" x="434" y="862.7" font-size="33.1">adjustable maximum</text>
</g>
</svg>
</body></html>
